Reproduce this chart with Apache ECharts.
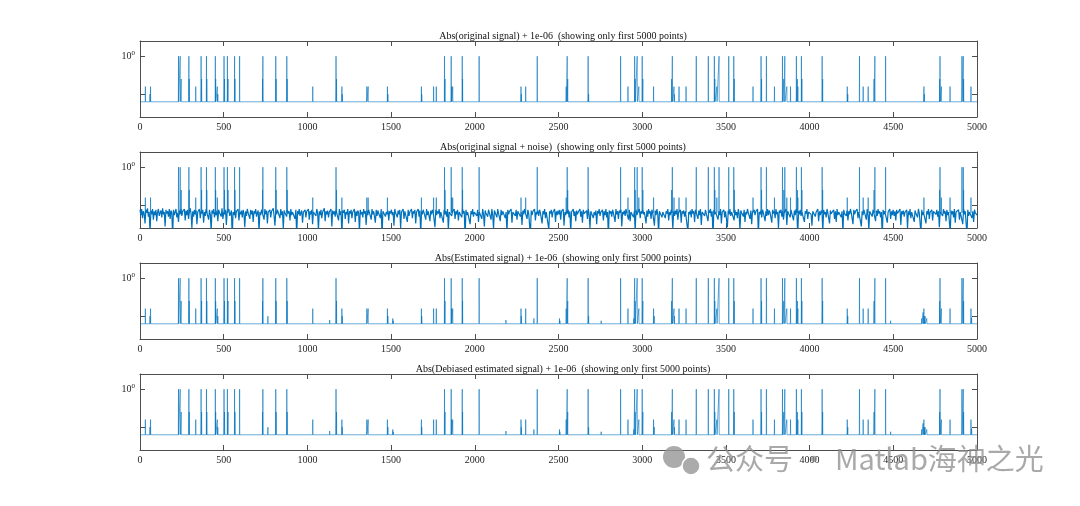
<!DOCTYPE html>
<html>
<head>
<meta charset="utf-8">
<title></title>
<style>
html, body { margin: 0; height: 100%; background: #fff; }
#main { width: 1080px; height: 506px; }
</style>
</head>
<body>
<div id="main"></div>
<script src="https://cdn.jsdelivr.net/npm/echarts@6/dist/echarts.min.js"></script>
<script>
var N = 5000;
var floorVal = 1e-6;
var yMin = 1e-8;
var yMax = 100;
var xTickStep = 500;
var yTickValues = [1e-5, 1];
var yLabelValues = [1];

var titles = [
	'Abs(original signal) + 1e-06  (showing only first 5000 points)',
	'Abs(original signal + noise)  (showing only first 5000 points)',
	'Abs(Estimated signal) + 1e-06  (showing only first 5000 points)',
	'Abs(Debiased estimated signal) + 1e-06  (showing only first 5000 points)'
];

// original sparse signal: sample index and log10 of |value|
var sigIdx = [32, 60, 63, 230, 240, 246, 292, 294, 333, 365, 368, 397, 399, 450, 452, 462, 465,
	502, 505, 522, 526, 565, 567, 595, 732, 734, 811, 813, 877, 879, 1032, 1171, 1174, 1206, 1208,
	1355, 1363, 1478, 1481, 1681, 1683, 1754, 1770, 1819, 1822, 1859, 1862, 1868, 1925, 1927, 2026,
	2276, 2278, 2304, 2373, 2546, 2552, 2555, 2677, 2680, 2871, 2915, 2955, 2958, 2970, 2980, 3000,
	3004, 3068, 3176, 3180, 3190, 3192, 3220, 3262, 3323, 3395, 3431, 3434, 3446, 3459, 3517, 3547,
	3550, 3662, 3710, 3713, 3742, 3790, 3838, 3846, 3852, 3864, 3886, 3921, 3927, 3930, 3951, 3954,
	4075, 4078, 4225, 4228, 4298, 4320, 4350, 4385, 4390, 4454, 4683, 4685, 4777, 4779, 4787, 4839,
	4910, 4918, 4920, 4964];
var sigExp = [-4, -5, -4, 0, 0, -3, 0, -3, -4, 0, -3, 0, -3, 0, -3, -4, -5,
	0, -3, 0, -3, 0, -3, 0, -3, 0, 0, -3, 0, -3, -4, 0, -3, -4, -5,
	-4, -4, -4, -5, -4, -5, -4, -4, 0, -3, 0, -4, -4, 0, -3, 0,
	-4, -5, -4, 0, -4, 0, -3, 0, -5, 0, -4, 0, -3, 0, -4, 0,
	-3, -4, -3, 0, -4, -5, -4, -4, 0, 0, 0, -3, -4, 0, 0, 0,
	-3, -4, 0, -3, 0, -4, 0, -3, 0, -4, -4, 0, -3, -4, 0, -3,
	0, -3, -4, -5, 0, -4, -4, -3, 0, 0, -4, -5, -3, 0, -4, -4,
	0, 0, -3, -4];

// small extra components that appear only in the estimates
var estIdx = [764, 1133, 1510, 1513, 2186, 2353, 2506, 2508, 2755, 2950, 3072, 4484, 4670, 4678, 4690, 4700, 4968];
var estExp = [-5, -5.5, -5.3, -5.6, -5.5, -5.3, -5.3, -5.6, -5.6, -5.3, -5, -5.6, -5.3, -4.5, -5, -5.3, -5.2];

// |noise| on the noisy panel, log10, read as a band along the 5000 points
var noiseExp = [
	-5.6, -6.3, -5.5, -6.7, -5.8, -6.1, -7.4, -5.6, -6.0, -5.4, -6.5, -5.9, -8.7, -5.7, -6.2, -5.5, -6.9, -5.8, -6.3, -5.6, -7.1, -5.9, -5.5, -6.4, -6.0,
	-5.7, -6.6, -5.4, -6.2, -5.9, -7.8, -5.6, -6.1, -5.8, -6.5, -5.5, -6.8, -5.7, -6.0, -9.1, -5.6, -6.3, -5.9, -5.5, -6.6, -6.0, -7.2, -5.7, -6.2, -5.5,
	-6.4, -5.8, -6.0, -5.5, -7.0, -5.7, -6.3, -5.6, -6.8, -5.9, -5.4, -6.1, -8.0, -5.8, -6.5, -5.6, -6.2, -5.7, -7.5, -5.9, -6.0, -5.5, -6.7, -5.8, -6.1,
	-5.6, -7.3, -5.9, -6.4, -5.5, -6.0, -5.8, -6.9, -5.6, -6.2, -8.4, -5.7, -6.1, -5.5, -6.6, -5.9, -6.3, -5.7, -7.1, -5.6, -6.0, -5.8, -6.5, -5.4, -6.8,
	-5.9, -6.2, -5.6, -7.6, -5.8, -6.0, -5.5, -6.4, -6.1, -5.7, -9.3, -5.9, -6.3, -5.6, -6.7, -5.8, -6.0, -5.5, -7.0, -5.9, -6.2, -5.7, -6.6, -5.6, -6.1,
	-7.9, -5.8, -6.4, -5.5, -6.0, -5.9, -6.8, -5.6, -6.2, -5.7, -7.2, -5.8, -6.1, -5.5, -6.5, -6.0, -5.7, -8.6, -5.9, -6.3, -5.6, -6.0, -5.8, -6.9, -5.5,
	-6.2, -5.7, -7.4, -5.9, -6.1, -5.6, -6.6, -5.8, -6.0, -5.4, -6.4, -7.7, -5.8, -6.2, -5.6, -6.0, -5.9, -6.7, -5.5, -6.3, -5.8, -8.1, -5.7, -6.0, -5.9,
	-6.5, -5.6, -6.1, -5.8, -7.0, -5.5, -6.3, -5.9, -6.0, -5.7, -6.8, -5.6, -9.0, -5.8, -6.2, -5.5, -6.4, -6.0, -5.7, -7.3, -5.9, -6.1, -5.6, -6.6, -5.8,
	-6.0, -5.5, -6.9, -5.8, -6.2, -5.6, -7.5, -5.9, -6.1, -5.7, -6.4, -5.5, -6.0, -8.2, -5.8, -6.3, -5.6, -6.7, -5.9, -6.0, -5.4, -7.1, -5.8, -6.2, -5.7,
	-6.6, -5.9, -6.0, -5.5, -7.8, -5.7, -6.2, -5.8, -6.5, -5.6, -6.1, -5.9, -7.0, -5.5, -6.3, -5.8, -8.9, -5.7, -6.0, -5.6, -6.8, -5.9, -6.2, -5.5, -7.4,
	-5.8, -6.1, -5.6, -6.7, -5.9, -6.0, -5.5, -7.2, -5.8, -6.4, -5.7, -6.0, -8.5, -5.6, -6.2, -5.9, -6.6, -5.5, -6.1, -5.8, -7.6, -5.7, -6.3, -5.6, -6.0,
	-5.9, -6.9, -5.5, -6.2, -5.8, -6.0, -7.3, -5.6, -6.4, -5.7, -6.1, -5.9, -6.7, -5.5, -9.2, -5.8, -6.0, -5.6, -6.5, -5.9, -6.2, -5.7, -7.0, -5.8, -6.1,
	-5.6, -6.3, -5.9, -7.7, -5.5, -6.0, -5.8, -6.6, -5.7, -6.2, -5.6, -8.0, -5.9, -6.1, -5.5, -6.8, -5.8, -6.0, -5.7, -7.2, -5.6, -6.4, -5.9, -6.0, -5.5,
	-6.7, -5.8, -6.1, -5.6, -7.4, -5.9, -6.0, -5.5, -6.5, -5.7, -8.8, -5.8, -6.2, -5.6, -6.0, -5.9, -6.9, -5.5, -6.3, -5.8, -6.0, -7.1, -5.7, -6.2, -5.6,
	-6.0, -5.9, -7.9, -5.6, -6.3, -5.8, -6.1, -5.5, -6.7, -5.9, -6.0, -5.7, -7.3, -5.6, -6.2, -5.8, -6.5, -5.5, -8.3, -5.9, -6.1, -5.7, -6.4, -5.8, -6.0,
	-5.5, -6.8, -5.8, -6.2, -5.6, -7.0, -5.9, -6.0, -5.7, -6.6, -5.5, -6.1, -5.8, -9.4, -5.6, -6.3, -5.9, -6.0, -5.7, -7.5, -5.8, -6.2, -5.5, -6.5, -5.9,
	-6.1, -5.7, -6.4, -5.6, -7.2, -5.9, -6.0, -5.8, -6.8, -5.5, -6.2, -7.8, -5.7, -6.1, -5.9, -6.5, -5.6, -6.0, -5.8, -6.9, -5.5, -6.3, -8.1, -5.7, -6.0,
	-5.8, -6.6, -5.5, -6.1, -5.9, -7.1, -5.6, -6.3, -5.8, -6.0, -5.7, -6.7, -5.9, -8.6, -5.6, -6.2, -5.8, -6.0, -5.5, -7.3, -5.9, -6.1, -5.7, -6.4, -5.6,
	-6.9, -5.8, -6.0, -5.6, -6.5, -5.9, -7.6, -5.7, -6.2, -5.5, -6.0, -5.8, -6.8, -5.6, -6.1, -5.9, -9.0, -5.7, -6.3, -5.8, -6.0, -5.5, -7.0, -5.9, -6.2,
	-5.7, -6.4, -5.6, -6.0, -5.9, -7.4, -5.8, -6.2, -5.5, -6.7, -5.9, -6.0, -5.7, -8.2, -5.8, -6.1, -5.6, -6.6, -5.9, -6.0, -5.5, -7.2, -5.8, -6.3, -5.7,
	-6.2, -5.6, -6.9, -5.8, -6.0, -5.5, -7.7, -5.9, -6.3, -5.7, -6.1, -5.6, -6.6, -5.8, -8.7, -5.9, -6.0, -5.5, -6.4, -5.8, -7.1, -5.7, -6.2, -5.9, -6.0,
	-5.5, -6.5, -5.8, -7.3, -5.6, -6.1, -5.9, -6.0, -5.7, -6.8, -5.5, -6.2, -8.0, -5.8, -6.0, -5.6, -6.7, -5.9, -6.3, -5.7, -7.5, -5.8, -6.1, -5.5, -6.4,
	-5.9, -6.0, -5.6, -7.0, -5.8, -6.3, -5.5, -6.6, -5.9, -9.1, -5.7, -6.1, -5.8, -6.5, -5.6, -6.0, -5.9, -7.2, -5.5, -6.2, -5.8, -6.8, -5.7, -6.0, -5.6,
	-7.8, -5.9, -6.2, -5.7, -6.4, -5.5, -6.0, -5.8, -6.9, -5.6, -7.1, -5.9, -6.1, -5.7, -6.6, -5.8, -8.4, -5.6, -6.3, -5.9, -6.0, -5.5, -6.7, -5.8, -6.1,
	-5.6, -6.2, -5.9, -6.0, -7.4, -5.7, -6.5, -5.5, -6.1, -5.8, -6.8, -5.6, -6.0, -5.9, -7.7, -5.7, -6.3, -5.5, -6.2, -8.9, -5.8, -6.0, -5.6, -6.6, -5.9,
	-6.0, -5.7, -6.7, -5.8, -6.1, -5.5, -7.0, -5.9, -6.3, -5.6, -6.0, -8.1, -5.8, -6.4, -5.7, -6.2, -5.5, -6.9, -5.9, -6.0, -5.6, -7.3, -5.8, -6.1, -5.7,
	-6.5, -5.8, -6.0, -5.6, -8.5, -5.9, -6.2, -5.7, -6.6, -5.5, -6.1, -5.8, -7.2, -5.6, -6.0, -5.9, -6.8, -5.7, -6.3, -5.5, -7.6, -5.9, -6.0, -5.8, -6.4,
	-5.6, -6.1, -5.9, -7.1, -5.7, -6.0, -5.5, -6.5, -5.8, -9.2, -5.6, -6.2, -5.9, -6.0, -5.7, -6.9, -5.8, -6.3, -5.5, -7.4, -5.9, -6.1, -5.6, -6.6, -5.8,
	-6.0, -7.9, -5.7, -6.2, -5.5, -6.4, -5.9, -6.0, -5.8, -7.0, -5.6, -6.3, -5.9, -6.7, -5.5, -6.1, -8.3, -5.7, -6.0, -5.8, -6.5, -5.6, -7.2, -5.9, -6.2,
	-5.5, -6.0, -5.8, -6.8, -5.7, -7.5, -5.9, -6.1, -5.6, -6.3, -5.8, -6.0, -5.5, -8.8, -5.9, -6.2, -5.7, -6.6, -5.6, -6.0, -5.9, -7.1, -5.8, -6.4, -5.5,
	-6.3, -5.7, -6.0, -5.9, -7.3, -5.6, -6.1, -5.8, -6.7, -5.5, -6.2, -5.9, -8.0, -5.7, -6.0, -5.6, -6.5, -5.8, -6.9, -5.9, -6.1, -5.5, -7.6, -5.8, -6.0,
	-5.8, -6.6, -5.6, -6.1, -5.9, -7.0, -5.7, -6.3, -5.5, -6.0, -9.0, -5.8, -6.2, -5.6, -6.4, -5.9, -6.0, -5.7, -7.2, -5.8, -6.1, -5.5, -6.8, -5.9, -6.0,
	-5.7, -6.2, -7.7, -5.8, -6.0, -5.6, -6.5, -5.9, -6.1, -5.5, -7.1, -5.8, -6.3, -5.7, -6.0, -8.4, -5.6, -6.2, -5.9, -6.6, -5.5, -6.0, -5.8, -7.4, -5.7,
	-6.1, -5.9, -6.0, -5.6, -6.8, -5.8, -7.2, -5.5, -6.3, -5.9, -6.0, -5.7, -6.6, -5.8, -8.6, -5.6, -6.1, -5.9, -6.4, -5.7, -7.0, -5.8, -6.2, -5.5, -6.0,
	-5.9, -7.5, -5.6, -6.2, -5.8, -6.0, -5.5, -6.7, -5.9, -6.1, -5.7, -7.8, -5.8, -6.3, -5.6, -6.0, -5.9, -6.9, -5.5, -6.2, -8.2, -5.8, -6.0, -5.7, -6.5,
	-5.6, -6.0, -5.9, -7.1, -5.7, -6.4, -5.5, -6.1, -5.8, -6.6, -5.9, -9.3, -5.6, -6.2, -5.8, -6.0, -5.7, -7.3, -5.9, -6.1, -5.5, -6.8, -5.8, -6.3, -5.6,
	-6.4, -5.8, -7.0, -5.6, -6.1, -5.9, -6.0, -5.5, -7.6, -5.8, -6.2, -5.7, -6.5, -5.9, -6.0, -5.6, -8.0, -5.8, -6.3, -5.5, -6.7, -5.9, -6.1, -5.7, -7.2,
	-5.7, -6.1, -5.9, -6.6, -5.5, -6.0, -5.8, -8.7, -5.6, -6.3, -5.9, -6.0, -5.7, -7.4, -5.8, -6.2, -5.5, -6.8, -5.9, -6.1, -5.6, -7.0, -5.8, -6.0, -5.9,
	-6.2, -5.6, -6.5, -5.8, -7.9, -5.9, -6.0, -5.7, -6.4, -5.5, -6.1, -5.8, -7.1, -5.6, -6.3, -5.9, -6.0, -8.5, -5.7, -6.2, -5.8, -6.6, -5.5, -7.3, -5.9,
	-5.8, -6.0, -5.6, -6.9, -5.9, -6.1, -5.7, -7.5, -5.5, -6.2, -5.8, -6.0, -9.0, -5.6, -6.4, -5.9, -6.1, -5.7, -6.7, -5.8, -7.2, -5.6, -6.0, -5.9, -6.3
];

var gridTops = [41, 152, 263, 374];
var gridH = 76;
var lineColor = '#0072BD';
var axisColor = '#4d4d4d';
var textColor = '#262626';
var serif = '"Liberation Serif", "DejaVu Serif", serif';

// spikes rising from the 1e-6 floor; withFloor=false leaves the floor undrawn
function spikeLine(idx, exps, withFloor) {
	var order = idx.map(function(v, i) { return i; });
	order.sort(function(a, b) { return idx[a] - idx[b]; });
	var pts = withFloor ? [[0, floorVal]] : [];
	order.forEach(function(k) {
		var x = idx[k];
		pts.push([x - 1, floorVal], [x, Math.pow(10, exps[k])], [x + 1, floorVal]);
		if(!withFloor) pts.push([x + 1, '-']);
	});
	if(withFloor) pts.push([N, floorVal]);
	return pts;
}

function noiseLine() {
	var pts = [];
	var step = N / (noiseExp.length - 1);
	for(var k = 0; k < noiseExp.length; k++) {
		pts.push([Math.round(k * step), Math.pow(10, noiseExp[k])]);
	}
	return pts;
}

var bigIdx = [], bigExp = [];
for(var i = 0; i < sigIdx.length; i++) {
	if(sigExp[i] > -5) { bigIdx.push(sigIdx[i]); bigExp.push(sigExp[i]); }
}

var grid = [], xAxis = [], yAxis = [], series = [], title = [];
for(var g = 0; g < 4; g++) {
	grid.push({ left: 140, right: 103, top: gridTops[g], height: gridH });
	title.push({
		text: titles[g], left: 558, top: gridTops[g] - 15, textAlign: 'center',
		textStyle: { fontFamily: serif, fontSize: 10, fontWeight: 'normal', color: '#111' }
	});
	['bottom', 'top'].forEach(function(pos) {
		xAxis.push({
			type: 'value', gridIndex: g, position: pos, min: 0, max: N, interval: xTickStep,
			axisLine: { show: true, onZero: false, lineStyle: { color: axisColor, width: 1 } },
			axisTick: { show: true, inside: true, length: 5, lineStyle: { color: axisColor } },
			axisLabel: {
				show: pos === 'bottom', margin: 5, color: textColor, fontFamily: serif, fontSize: 10,
				showMinLabel: true, showMaxLabel: true,
				formatter: function(v) { return String(v); }
			},
			splitLine: { show: false }
		});
	});
	['left', 'right'].forEach(function(pos) {
		yAxis.push({
			type: 'log', logBase: 10, gridIndex: g, position: pos, min: yMin, max: yMax,
			axisLine: { show: true, onZero: false, lineStyle: { color: axisColor, width: 1 } },
			axisTick: { show: true, inside: true, length: 5, customValues: yTickValues, lineStyle: { color: axisColor } },
			axisLabel: {
				show: pos === 'left', margin: 5, customValues: yLabelValues,
				formatter: function(v) { return Math.abs(Math.log10(v)) < 1e-6 ? '{b|10}{s|0}' : ''; },
				rich: {
					b: { fontFamily: serif, fontSize: 10, color: textColor },
					s: { fontFamily: serif, fontSize: 7, color: textColor, padding: [0, 0, 7, 0] }
				}
			},
			splitLine: { show: false }
		});
	});
}

function addLine(g, data, width) {
	series.push({
		type: 'line', xAxisIndex: 2 * g, yAxisIndex: 2 * g, data: data,
		showSymbol: false, symbol: 'none', animation: false, connectNulls: false,
		lineStyle: { color: lineColor, width: width }
	});
}

addLine(0, spikeLine(sigIdx, sigExp, true), 0.6);
addLine(1, noiseLine(), 1.2);
addLine(1, spikeLine(bigIdx, bigExp, false), 0.6);
addLine(2, spikeLine(sigIdx.concat(estIdx), sigExp.concat(estExp), true), 0.6);
addLine(3, spikeLine(sigIdx.concat(estIdx), sigExp.concat(estExp), true), 0.6);

var chart = echarts.init(document.getElementById('main'), null, { renderer: 'canvas' });
chart.setOption({
	backgroundColor: '#fff',
	animation: false,
	title: title,
	grid: grid,
	xAxis: xAxis,
	yAxis: yAxis,
	series: series,
	graphic: [
		{ type: 'circle', shape: { cx: 674, cy: 457, r: 11 }, style: { fill: 'rgba(150,150,150,0.8)' }, z: 100 },
		{ type: 'circle', shape: { cx: 691, cy: 466, r: 9 }, style: { fill: 'rgba(150,150,150,0.8)', stroke: '#fff', lineWidth: 1.5 }, z: 101 },
		{
			type: 'text', left: 706, top: 444, z: 102,
			style: {
				text: '公众号 • Matlab海神之光', fill: 'rgba(140,140,140,0.75)',
				font: '29px "Noto Sans CJK SC", "Noto Sans", sans-serif'
			}
		}
	]
});
</script>
</body>
</html>
